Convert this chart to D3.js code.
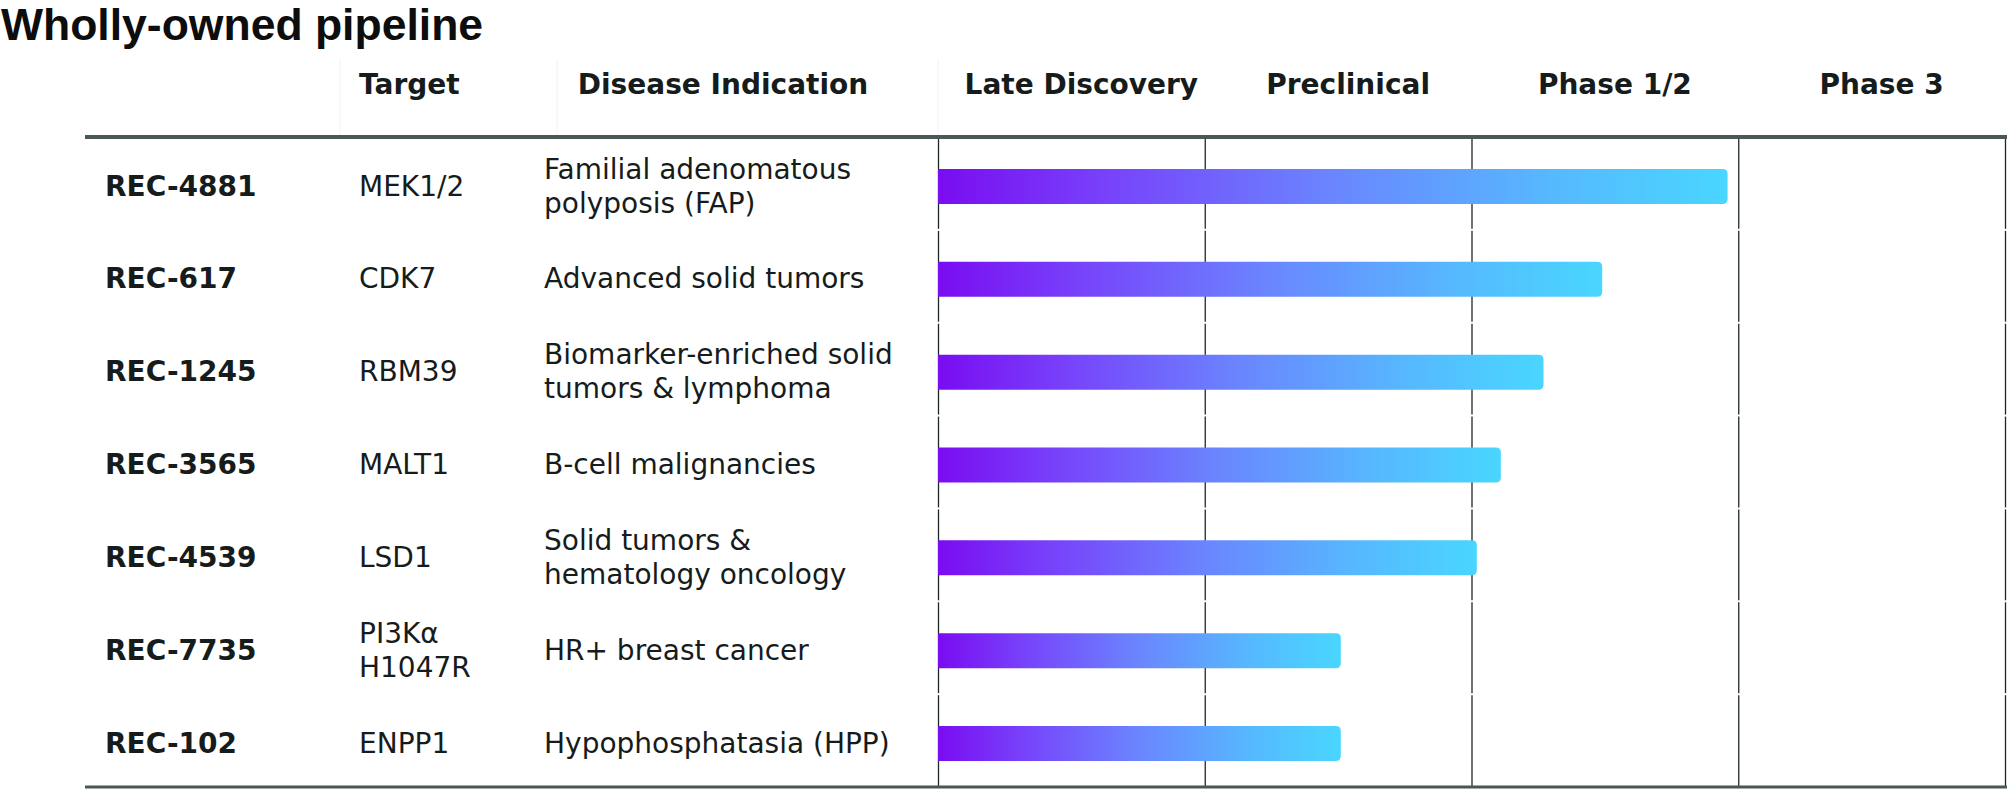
<!DOCTYPE html>
<html>
<head>
<meta charset="utf-8">
<script src="https://cdn.jsdelivr.net/npm/d3@7"></script>
<style>
  html, body { margin: 0; padding: 0; background: #ffffff; }
  svg { display: block; }
</style>
</head>
<body>
<svg id="chart" width="2007" height="799"></svg>
<script>
// ---- data ----
const title = "Wholly-owned pipeline";
const columnHeaders = ["Target", "Disease Indication"];
const phases = ["Late Discovery", "Preclinical", "Phase 1/2", "Phase 3"];
const drugs = ["REC-4881", "REC-617", "REC-1245", "REC-3565", "REC-4539", "REC-7735", "REC-102"];
const targets = [["MEK1/2"], ["CDK7"], ["RBM39"], ["MALT1"], ["LSD1"], ["PI3K\u03b1", "H1047R"], ["ENPP1"]];
const indications = [
  ["Familial adenomatous", "polyposis (FAP)"],
  ["Advanced solid tumors"],
  ["Biomarker-enriched solid", "tumors & lymphoma"],
  ["B-cell malignancies"],
  ["Solid tumors &", "hematology oncology"],
  ["HR+ breast cancer"],
  ["Hypophosphatasia (HPP)"]
];
// progress in phase units (0 = start of Late Discovery, 4 = end of Phase 3)
const progress = [2.96, 2.49, 2.27, 2.11, 2.02, 1.51, 1.51];

// ---- layout ----
const svg = d3.select("#chart");
const FONT = "'DejaVu Sans', Verdana, sans-serif";
const TEXT = "#161b1b";
const tableTop = 137, tableBottom = 787, lineLeft = 85;
const xName = 105, xTarget = 359, xDisease = 544;
const fs = 28, capHalf = 10.2, lineGap = 34;

const x = d3.scaleLinear().domain([0, phases.length]).range([938, 2005]);
const y = d3.scaleBand().domain(drugs).range([tableTop, tableBottom]);
const rowMid = d => y(d) + y.bandwidth() / 2;

// gradient
const defs = svg.append("defs");
const grad = defs.append("linearGradient").attr("id", "barGrad")
  .attr("x1", "0%").attr("x2", "100%").attr("y1", "0%").attr("y2", "0%");
grad.append("stop").attr("offset", "0%").attr("stop-color", "#7a0cf1");
grad.append("stop").attr("offset", "22%").attr("stop-color", "#7744fb");
grad.append("stop").attr("offset", "50%").attr("stop-color", "#6a86fe");
grad.append("stop").attr("offset", "78%").attr("stop-color", "#56b9fe");
grad.append("stop").attr("offset", "100%").attr("stop-color", "#49d6ff");

// title
svg.append("text").attr("x", 1).attr("y", 40)
  .attr("font-family", "'Liberation Sans', Arial, Helvetica, sans-serif")
  .attr("font-weight", "bold").attr("font-size", 44.5).attr("fill", "#0d0d0d")
  .text(title);

// faint header cell borders
[340, 557, 938].forEach(xx => {
  svg.append("line").attr("x1", xx).attr("x2", xx).attr("y1", 60).attr("y2", tableTop - 2)
    .attr("stroke", "#f1f2f2").attr("stroke-width", 1);
});

// headers
const hdrY = 94;
svg.append("text").attr("x", xTarget).attr("y", hdrY)
  .attr("font-family", FONT).attr("font-weight", "bold").attr("font-size", fs)
  .attr("fill", TEXT).text(columnHeaders[0]);
svg.append("text").attr("x", 723).attr("y", hdrY).attr("text-anchor", "middle")
  .attr("font-family", FONT).attr("font-weight", "bold").attr("font-size", fs)
  .attr("fill", TEXT).text(columnHeaders[1]);
svg.selectAll("text.phase").data(phases).enter().append("text")
  .attr("class", "phase")
  .attr("x", (d, i) => (x(i) + x(i + 1)) / 2 + 10)
  .attr("y", hdrY).attr("text-anchor", "middle")
  .attr("font-family", FONT).attr("font-weight", "bold").attr("font-size", fs)
  .attr("fill", TEXT).text(d => d);

// vertical phase lines, split per row
const segs = [];
drugs.forEach(d => {
  d3.range(phases.length + 1).forEach(i => segs.push({ d, i }));
});
svg.selectAll("line.vline").data(segs).enter().append("line")
  .attr("class", "vline")
  .attr("x1", s => x(s.i) + 0.5).attr("x2", s => x(s.i) + 0.5)
  .attr("y1", s => y(s.d) + 1)
  .attr("y2", s => y(s.d) + y.bandwidth() - 1)
  .attr("stroke", "#1f2828").attr("stroke-width", 1.3);

// horizontal rules
svg.append("line").attr("x1", lineLeft).attr("x2", 2007).attr("y1", tableTop).attr("y2", tableTop)
  .attr("stroke", "#4b5656").attr("stroke-width", 4);
svg.append("line").attr("x1", lineLeft).attr("x2", 2007).attr("y1", tableBottom).attr("y2", tableBottom)
  .attr("stroke", "#4b5656").attr("stroke-width", 3);

// bars (square left, rounded right)
const barH = 35, r = 5;
function barPath(x0, x1, yc) {
  const t = yc - barH / 2, b = yc + barH / 2;
  return `M${x0},${t} H${x1 - r} Q${x1},${t} ${x1},${t + r} V${b - r} Q${x1},${b} ${x1 - r},${b} H${x0} Z`;
}
svg.selectAll("path.bar").data(drugs).enter().append("path")
  .attr("class", "bar")
  .attr("d", (d, i) => barPath(x(0), x(progress[i]), rowMid(d) + 3))
  .attr("fill", "url(#barGrad)");

// multi-line cell text helper
function cell(lines, xx, d, bold) {
  const n = lines.length;
  const base = rowMid(d) + 2 + capHalf - (n - 1) * lineGap / 2;
  const t = svg.append("text").attr("x", xx)
    .attr("font-family", FONT).attr("font-size", fs)
    .attr("font-weight", bold ? "bold" : "normal").attr("fill", TEXT);
  lines.forEach((ln, k) => {
    t.append("tspan").attr("x", xx).attr("y", base + k * lineGap).text(ln);
  });
}
drugs.forEach((d, i) => {
  cell([d], xName, d, true);
  cell(targets[i], xTarget, d, false);
  cell(indications[i], xDisease, d, false);
});
</script>
</body>
</html>
